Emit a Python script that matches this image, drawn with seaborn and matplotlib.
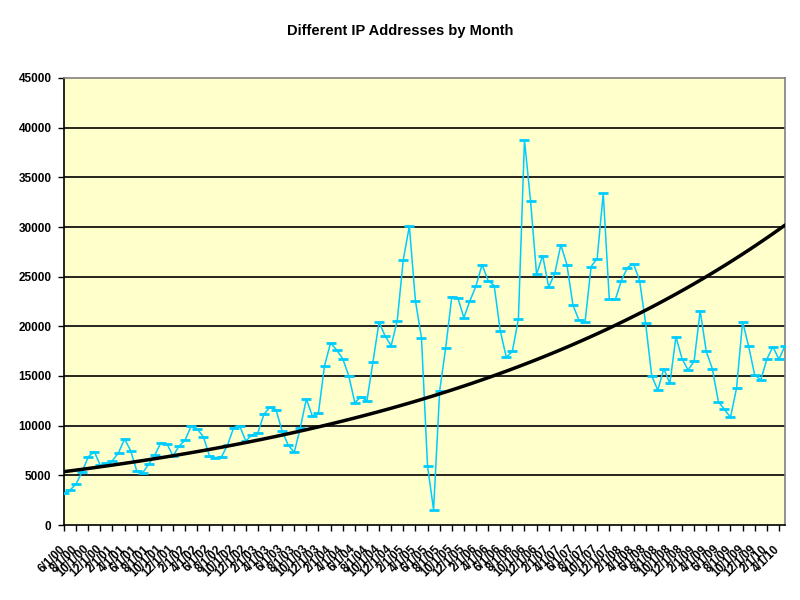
import pandas as pd
import numpy as np
import matplotlib.pyplot as plt
import matplotlib.transforms as mtransforms
import seaborn as sns

# monthly counts of distinct IP addresses, 6/2000 .. 5/2010
start_month = '2000-06-01'
ip_counts = [
    3190, 3520, 4130, 5370, 6850, 7380, 6000, 6240, 6480, 7280,
    8660, 7480, 5470, 5270, 6140, 7050, 8290, 8150, 6950, 7950,
    8560, 9970, 9660, 8890, 6980, 6780, 6880, 8050, 9800, 9970,
    8460, 9060, 9290, 11140, 11880, 11580, 9460, 8050, 7320, 9770,
    12690, 10950, 11310, 16040, 18320, 17620, 16740, 15030, 12320, 12890,
    12520, 16440, 20440, 19030, 18050, 20570, 26710, 30100, 22580, 18860,
    5940, 1540, 13490, 17850, 22950, 22850, 20870, 22580, 24060, 26210,
    24600, 24110, 19560, 16880, 17480, 20760, 38750, 32650, 25220, 27130,
    23950, 25320, 28200, 26220, 22140, 20600, 20430, 26020, 26820, 33390,
    22710, 22710, 24610, 25920, 26290, 24610, 20290, 15030, 13560, 15740,
    14260, 18960, 16750, 15600, 16480, 21580, 17480, 15740, 12420, 11640,
    10840, 13760, 20470, 17990, 15100, 14600, 16680, 17950, 16680, 18050,
]
# exponential trendline as shown on the chart: y = a * exp(b * month_index)
trend_a = 5370
trend_b = 0.01451
y_ticks = list(range(0, 45001, 5000))

months = pd.date_range(start_month, periods=len(ip_counts), freq='MS')
labels = [f"{d.month}/{d.day}/{d.year % 100:02d}" for d in months]

df = pd.DataFrame({'idx': np.arange(len(ip_counts)), 'count': ip_counts})
df['trend'] = trend_a * np.exp(trend_b * df['idx'])

sns.set_style('white')
plt.rcParams['font.family'] = ['Liberation Sans', 'DejaVu Sans']
plt.rcParams['text.color'] = 'black'
plt.rcParams['xtick.color'] = 'black'
plt.rcParams['ytick.color'] = 'black'

fig = plt.figure(figsize=(8, 6), dpi=100)
ax = fig.add_axes([0.08, 0.125, 0.90125, 0.745])
ax.set_facecolor('#FFFFCC')

for v in y_ticks[1:-1]:
    ax.axhline(v, color='black', lw=1.2, zorder=1)

sns.lineplot(data=df, x='idx', y='count', ax=ax, color='#00CCFF', lw=1.1,
             marker='_', markersize=6.5, markeredgewidth=2,
             markeredgecolor='#00CCFF', zorder=3)
sns.lineplot(data=df, x='idx', y='trend', ax=ax, color='black', lw=2.5, zorder=4)

ax.set_xlim(0, len(ip_counts) - 1)
ax.set_ylim(0, 45000)
ax.set_yticks(y_ticks)
ax.set_yticklabels([str(v) for v in y_ticks], fontsize=8.5, fontweight='bold',
                   color='black')
ax.set_xticks(df['idx'][::2])
ax.set_xticklabels(labels[::2], rotation=45, ha='right', rotation_mode='anchor',
                   fontsize=8.5, fontweight='bold', color='black')
ax.tick_params(axis='both', direction='out', length=4, width=1, color='black',
               bottom=True, left=True)
ax.tick_params(axis='y', pad=5)
ax.tick_params(axis='x', pad=9)
shift = mtransforms.ScaledTranslation(-5 / 100, 0, fig.dpi_scale_trans)
for lbl in ax.get_xticklabels():
    lbl.set_transform(lbl.get_transform() + shift)
ax.set_xlabel('')
ax.set_ylabel('')

for side in ['left', 'bottom']:
    ax.spines[side].set_color('black')
    ax.spines[side].set_linewidth(1.2)
for side in ['right', 'top']:
    ax.spines[side].set_color('#808080')
    ax.spines[side].set_linewidth(1.2)

fig.text(0.5, 0.948, 'Different IP Addresses by Month', ha='center', va='center',
         fontsize=10.5, fontweight='bold', color='black')

fig.savefig('out.png', dpi=100, facecolor='white')
